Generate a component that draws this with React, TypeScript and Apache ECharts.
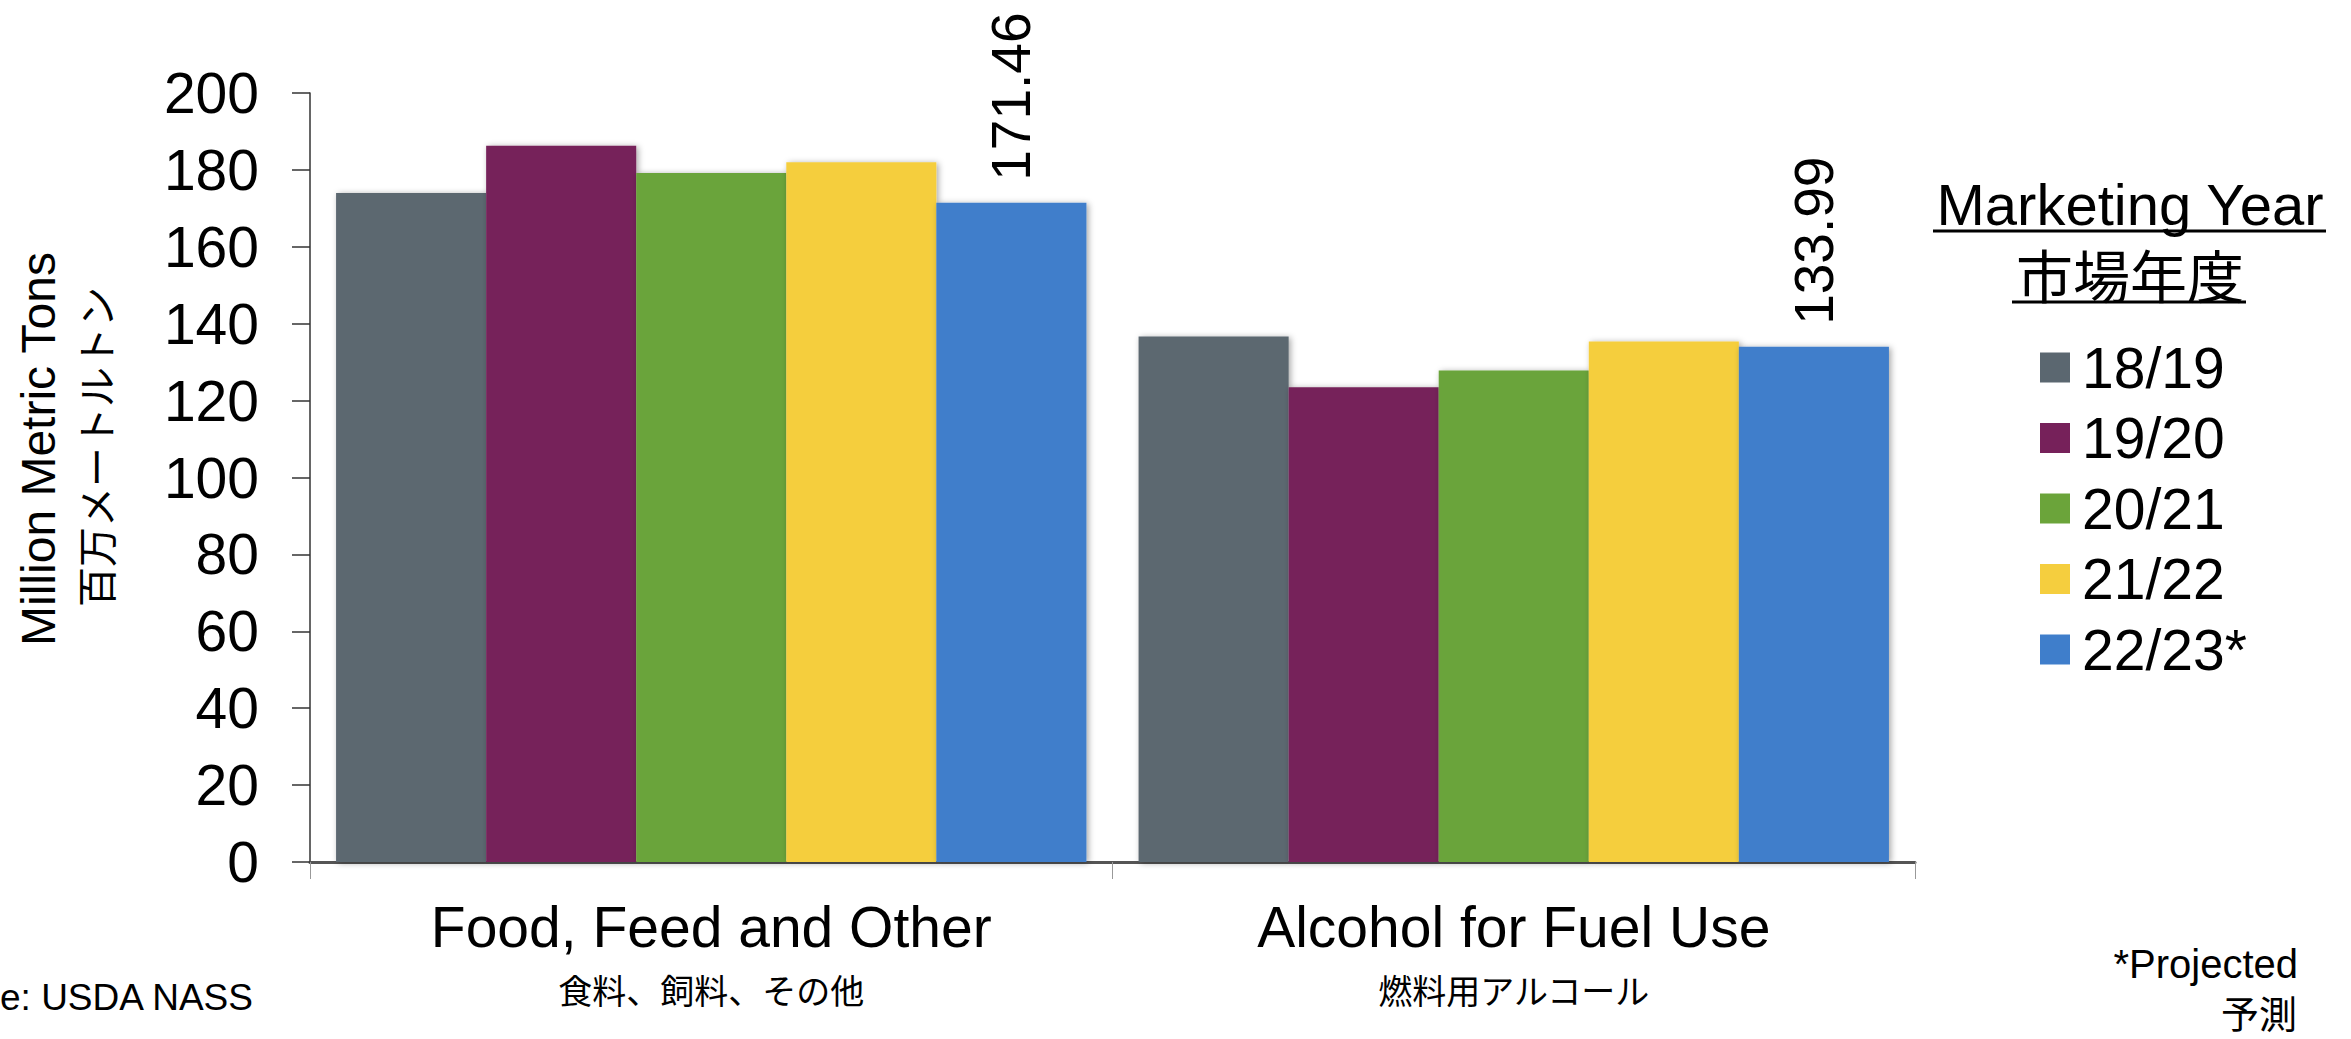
import React, { useEffect, useRef } from "react";
import * as echarts from "echarts";

const categories = ["Food, Feed and Other", "Alcohol for Fuel Use"];
const categoriesJa = ["食料、飼料、その他", "燃料用アルコール"];
const seriesNames = ["18/19", "19/20", "20/21", "21/22", "22/23*"];
const colors = ["#5B6770", "#76215A", "#6BA43A", "#F5CE3E", "#3F7ECB"];
const v1819 = [174.0, 136.7];
const v1920 = [186.3, 123.5];
const v2021 = [179.2, 127.8];
const v2122 = [182.0, 135.4];
const v2223 = [171.46, 133.99];
const yTicks = [0, 20, 40, 60, 80, 100, 120, 140, 160, 180, 200];

const FONT = "'Liberation Sans', Arial, 'Noto Sans CJK JP', sans-serif";
const CJK = "'Noto Sans CJK JP', 'Liberation Sans', sans-serif";

export default function App() {
  const ref = useRef<HTMLDivElement>(null);
  useEffect(() => {
    document.body.style.margin = "0";
    const chart = echarts.init(ref.current!, null, { renderer: "svg" });
    const values = [v1819, v1920, v2021, v2122, v2223];
    const series = values.map((vals, i) => ({
      name: seriesNames[i],
      type: "bar",
      data: vals,
      barGap: "0%",
      barCategoryGap: "6.5%",
      itemStyle: {
        color: colors[i],
        shadowBlur: 6,
        shadowColor: "rgba(0,0,0,0.35)",
        shadowOffsetX: 2,
        shadowOffsetY: 1,
      },
      label:
        i === 4
          ? {
              show: true,
              position: "top",
              rotate: 90,
              align: "left",
              verticalAlign: "middle",
              distance: 22,
              fontSize: 55,
              fontFamily: FONT,
              color: "#000",
              formatter: (p: any) => p.value.toFixed(2),
            }
          : { show: false },
    }));
    chart.setOption({
      animation: false,
      backgroundColor: "#fff",
      textStyle: { fontFamily: FONT },
      grid: { left: 310, right: 436, top: 93, bottom: 177, containLabel: false },
      legend: {
        orient: "vertical",
        left: 2040,
        top: 339,
        padding: 0,
        itemWidth: 30,
        itemHeight: 30,
        itemGap: 13.5,
        icon: "rect",
        selectedMode: false,
        itemStyle: { shadowBlur: 0, shadowColor: "transparent", shadowOffsetX: 0, shadowOffsetY: 0 },
        textStyle: { fontSize: 57, lineHeight: 57, color: "#000", fontFamily: FONT, padding: [0, 0, 0, 7] },
        data: seriesNames,
      },
      xAxis: {
        type: "category",
        data: categories,
        axisLine: { show: true, lineStyle: { color: "#555", width: 3 } },
        axisTick: { show: true, length: 17, lineStyle: { color: "#999", width: 1 } },
        axisLabel: {
          margin: 25,
          formatter: (v: string) => {
            const i = categories.indexOf(v);
            return `{a|${v}}\n{b|${categoriesJa[i]}}`;
          },
          rich: {
            a: { fontSize: 57, lineHeight: 80, fontFamily: FONT, color: "#000" },
            b: { fontSize: 34, lineHeight: 44, fontFamily: CJK, color: "#000" },
          },
        },
      },
      yAxis: {
        type: "value",
        min: yTicks[0],
        max: yTicks[yTicks.length - 1],
        interval: 20,
        splitLine: { show: false },
        axisLine: { show: true, lineStyle: { color: "#333", width: 1.5 } },
        axisTick: { show: true, length: 18, lineStyle: { color: "#333", width: 1.5 } },
        axisLabel: { fontSize: 57, color: "#000", margin: 51, fontFamily: FONT },
      },
      graphic: [
        {
          type: "text",
          x: 38,
          y: 449,
          rotation: Math.PI / 2,
          style: { text: "Million Metric Tons", fontSize: 48, fontFamily: FONT, fill: "#000", textAlign: "center", textVerticalAlign: "middle" },
        },
        {
          type: "text",
          x: 95,
          y: 447,
          rotation: Math.PI / 2,
          style: { text: "百万メートルトン", fontSize: 40, fontFamily: CJK, fill: "#000", textAlign: "center", textVerticalAlign: "middle" },
        },
        {
          type: "text",
          x: 2130,
          y: 204,
          style: { text: "Marketing Year", fontSize: 58, fontFamily: FONT, fill: "#000", textAlign: "center", textVerticalAlign: "middle" },
        },
        { type: "line", shape: { x1: 1933, y1: 231, x2: 2326, y2: 231 }, style: { stroke: "#000", lineWidth: 3 } },
        {
          type: "text",
          x: 2130,
          y: 273,
          style: { text: "市場年度", fontSize: 57, fontFamily: CJK, fill: "#000", textAlign: "center", textVerticalAlign: "middle" },
        },
        { type: "line", shape: { x1: 2012, y1: 302, x2: 2246, y2: 302 }, style: { stroke: "#000", lineWidth: 3 } },
        {
          type: "text",
          x: 0,
          y: 997,
          style: { text: "e: USDA NASS", fontSize: 37, fontFamily: FONT, fill: "#000", textAlign: "left", textVerticalAlign: "middle" },
        },
        {
          type: "text",
          x: 2298,
          y: 964,
          style: { text: "*Projected", fontSize: 40, fontFamily: FONT, fill: "#000", textAlign: "right", textVerticalAlign: "middle" },
        },
        {
          type: "text",
          x: 2297,
          y: 1011,
          style: { text: "予測", fontSize: 38, fontFamily: CJK, fill: "#000", textAlign: "right", textVerticalAlign: "middle" },
        },
      ],
      series,
    });
    return () => chart.dispose();
  }, []);
  return <div ref={ref} style={{ width: 2351, height: 1039 }} />;
}
